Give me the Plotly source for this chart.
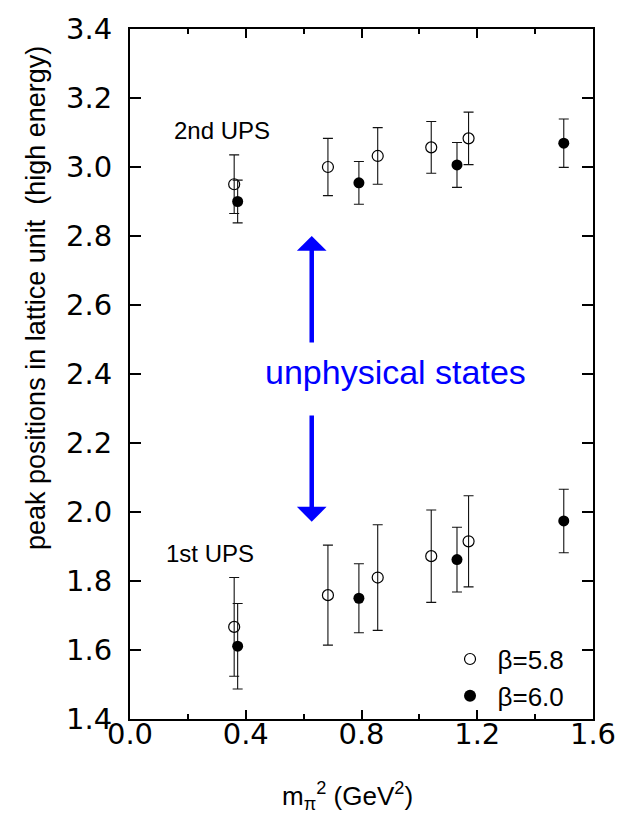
import plotly.graph_objects as go

# beta = 5.8 (open circles)
x_b58 = [0.360, 0.684, 0.856, 1.041, 1.170]
ups2_b58 = [2.950, 3.000, 3.032, 3.057, 3.083]
ups2_b58_err = [0.085, 0.083, 0.082, 0.075, 0.076]
ups1_b58 = [1.667, 1.759, 1.810, 1.872, 1.915]
ups1_b58_err = [0.143, 0.145, 0.153, 0.134, 0.132]

# beta = 6.0 (filled circles)
x_b60 = [0.372, 0.791, 1.130, 1.499]
ups2_b60 = [2.900, 2.954, 3.006, 3.069]
ups2_b60_err = [0.062, 0.062, 0.065, 0.070]
ups1_b60 = [1.611, 1.750, 1.862, 1.974]
ups1_b60_err = [0.124, 0.100, 0.094, 0.092]

x_ticks = [0.0, 0.4, 0.8, 1.2, 1.6]
y_ticks = [1.4, 1.6, 1.8, 2.0, 2.2, 2.4, 2.6, 2.8, 3.0, 3.2, 3.4]

FONT = "Liberation Sans, Arial, sans-serif"
TICKFONT = "DejaVu Sans, sans-serif"

fig = go.Figure()

err_style = dict(type="data", visible=True, color="#111", thickness=1.1, width=5)

fig.add_trace(go.Scatter(
    x=x_b58 + x_b58, y=ups2_b58 + ups1_b58,
    error_y=dict(array=ups2_b58_err + ups1_b58_err, **err_style),
    mode="markers", name="β=5.8", showlegend=False,
    marker=dict(symbol="circle-open", size=11, color="black", line=dict(width=1.2, color="black")),
))
fig.add_trace(go.Scatter(
    x=x_b60 + x_b60, y=ups2_b60 + ups1_b60,
    error_y=dict(array=ups2_b60_err + ups1_b60_err, **err_style),
    mode="markers", name="β=6.0", showlegend=False,
    marker=dict(symbol="circle", size=11, color="black"),
))
# legend entries
fig.add_trace(go.Scatter(x=[None], y=[None], mode="markers", name="β=5.8",
                         marker=dict(symbol="circle-open", size=11, color="black", line=dict(width=1.2, color="black"))))
fig.add_trace(go.Scatter(x=[None], y=[None], mode="markers", name="β=6.0",
                         marker=dict(symbol="circle", size=12, color="black")))

ann = []
ann.append(dict(x=0.318, y=3.105, xref="x", yref="y", text="2nd UPS", showarrow=False,
                font=dict(size=24, color="black", family=FONT)))
ann.append(dict(x=0.275, y=1.880, xref="x", yref="y", text="1st UPS", showarrow=False,
                font=dict(size=24, color="black", family=FONT)))
ann.append(dict(x=0.917, y=2.407, xref="x", yref="y", text="unphysical states", showarrow=False,
                font=dict(size=34, color="#0000ff", family=FONT)))
# arrows
ann.append(dict(x=0.628, y=2.800, ax=0.628, ay=2.487, xref="x", yref="y", axref="x", ayref="y",
                text="", showarrow=True, arrowhead=1, arrowwidth=4.5, arrowsize=1.1, arrowcolor="#0000ff"))
ann.append(dict(x=0.628, y=1.972, ax=0.628, ay=2.284, xref="x", yref="y", axref="x", ayref="y",
                text="", showarrow=True, arrowhead=1, arrowwidth=4.5, arrowsize=1.1, arrowcolor="#0000ff"))
# axis titles
ann.append(dict(x=-0.24, y=0.610, xref="paper", yref="paper", textangle=-90, showarrow=False,
                text="peak positions in lattice unit\u00a0\u00a0(high energy)",
                font=dict(size=27, color="black", family=FONT)))
ann.append(dict(x=0.47, y=-0.14, xref="paper", yref="paper", showarrow=False,
                text="m<sub>π</sub><sup>2</sup> (GeV<sup>2</sup>)",
                font=dict(size=26, color="black", family=FONT)))

fig.update_layout(
    width=628, height=817,
    margin=dict(l=130, r=32, t=27, b=98),
    paper_bgcolor="white", plot_bgcolor="white",
    font=dict(family=FONT, color="black"),
    annotations=ann,
    legend=dict(x=0.675, y=0.06, xanchor="left", yanchor="middle", bgcolor="rgba(0,0,0,0)",
                font=dict(size=26, color="black", family=FONT), itemwidth=45),
)
fig.update_xaxes(
    range=[0.0, 1.6], tickvals=x_ticks, ticktext=[f"{v:.1f}" for v in x_ticks],
    ticks="inside", ticklen=9, tickwidth=1.5, tickcolor="black",
    minor=dict(dtick=0.2, tick0=0, ticks="inside", ticklen=5, tickwidth=1.5, tickcolor="black"),
    showline=True, linewidth=2, linecolor="black", mirror="ticks",
    showgrid=False, zeroline=False, ticklabelstandoff=-12,
    tickfont=dict(size=29, color="black", family=TICKFONT),
)
fig.update_yaxes(
    range=[1.4, 3.4], tickvals=y_ticks, ticktext=[f"{v:.1f}" for v in y_ticks],
    ticks="inside", ticklen=11, tickwidth=1.5, tickcolor="black",
    showline=True, linewidth=2, linecolor="black", mirror="ticks",
    showgrid=False, zeroline=False, ticklabelstandoff=10,
    tickfont=dict(size=29, color="black", family=TICKFONT),
)

fig.write_html("out.html")
